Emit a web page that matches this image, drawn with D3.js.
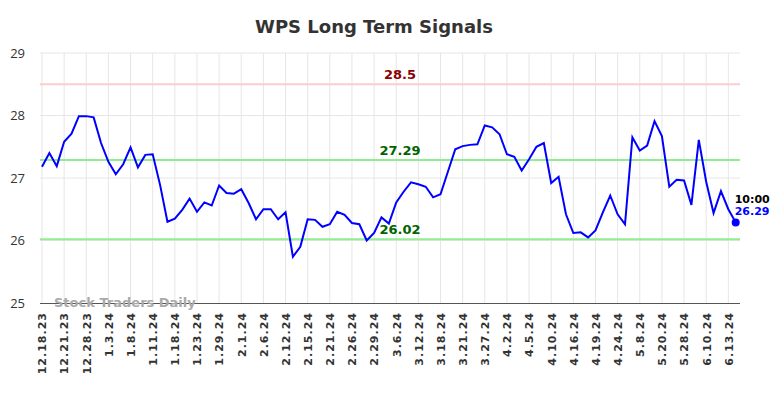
<!DOCTYPE html>
<html>
<head>
<meta charset="utf-8">
<script src="https://cdn.jsdelivr.net/npm/d3@7"></script>
<style>
  html, body { margin: 0; padding: 0; background: #fff; }
  #chart { width: 784px; height: 398px; }
</style>
</head>
<body>
<div id="chart"></div>
<script>
const tickLabels = ["12.18.23", "12.21.23", "12.28.23", "1.3.24", "1.8.24", "1.11.24", "1.18.24", "1.23.24",
    "1.29.24", "2.1.24", "2.6.24", "2.12.24", "2.15.24", "2.21.24", "2.26.24", "2.29.24", "3.6.24", "3.12.24",
    "3.18.24", "3.21.24", "3.27.24", "4.2.24", "4.5.24", "4.10.24", "4.16.24", "4.19.24", "4.24.24", "5.8.24",
    "5.20.24", "5.28.24", "6.10.24", "6.13.24"];

const prices = [27.18, 27.40, 27.19, 27.58, 27.71, 27.99, 27.99, 27.97, 27.56, 27.26,
    27.06, 27.22, 27.49, 27.17, 27.37, 27.38, 26.89, 26.30, 26.35, 26.49,
    26.67, 26.46, 26.61, 26.56, 26.88, 26.76, 26.75, 26.82, 26.60, 26.34,
    26.50, 26.50, 26.34, 26.45, 25.74, 25.90, 26.34, 26.33, 26.22, 26.26,
    26.46, 26.41, 26.28, 26.26, 26.00, 26.12, 26.37, 26.27, 26.61, 26.78,
    26.93, 26.90, 26.86, 26.69, 26.74, 27.10, 27.46, 27.51, 27.53, 27.54,
    27.84, 27.81, 27.70, 27.38, 27.34, 27.12, 27.30, 27.50, 27.56, 26.92,
    27.02, 26.42, 26.12, 26.13, 26.05, 26.16, 26.45, 26.72, 26.42, 26.26,
    27.65, 27.44, 27.52, 27.91, 27.67, 26.86, 26.97, 26.96, 26.57, 27.61,
    26.94, 26.44, 26.79, 26.50, 26.29];

const yTicks = [25, 26, 27, 28, 29];
const signalLevels = [
    { value: 28.5, label: "28.5", line: "#ffcccc", text: "#8b0000" },
    { value: 27.29, label: "27.29", line: "#90ee90", text: "#006400" },
    { value: 26.02, label: "26.02", line: "#90ee90", text: "#006400" }
];
const lastTime = "10:00";
const lastLabel = "26.29";
const watermark = "Stock Traders Daily";
const title = "WPS Long Term Signals";

const width = 784, height = 398;
const margin = { top: 53, right: 44, bottom: 95, left: 40 };
const innerWidth = width - margin.left - margin.right;
const innerHeight = height - margin.top - margin.bottom;

const svg = d3.select("#chart").append("svg")
    .attr("width", width)
    .attr("height", height)
    .style("font-family", "'DejaVu Sans', sans-serif");

svg.append("text")
    .attr("x", 374).attr("y", 33)
    .attr("text-anchor", "middle")
    .attr("font-size", 18).attr("font-weight", "bold")
    .attr("fill", "#333")
    .text(title);

const g = svg.append("g").attr("transform", `translate(${margin.left},${margin.top})`);

const x = d3.scaleLinear().domain([0, prices.length - 1]).range([2, 695.7]);
const y = d3.scaleLinear().domain([25, 29]).range([innerHeight, 0]);
const tickIdx = tickLabels.map((d, i) => i * 3);

// grid
g.append("g").selectAll("line").data(tickIdx).enter().append("line")
    .attr("x1", d => x(d)).attr("x2", d => x(d))
    .attr("y1", 0).attr("y2", innerHeight)
    .attr("stroke", "#e6e6e6").attr("stroke-width", 1);
g.append("g").selectAll("line").data(yTicks.slice(1)).enter().append("line")
    .attr("x1", 0).attr("x2", innerWidth)
    .attr("y1", d => y(d)).attr("y2", d => y(d))
    .attr("stroke", "#e6e6e6").attr("stroke-width", 1);

// y axis labels
g.append("g").call(d3.axisLeft(y).tickValues(yTicks).tickFormat(d3.format("d")).tickSize(0).tickPadding(15))
    .call(a => a.select(".domain").remove())
    .selectAll("text")
    .attr("font-family", "'Open Sans', sans-serif")
    .attr("font-size", 13).attr("fill", "#333");

// x axis
const xAxis = g.append("g").attr("transform", `translate(0,${innerHeight})`)
    .call(d3.axisBottom(x).tickValues(tickIdx).tickFormat((d, i) => tickLabels[i]).tickSize(0).tickSizeOuter(0));
xAxis.select(".domain").attr("stroke", "#555").attr("stroke-width", 1.2).attr("d", `M0,0.5H${innerWidth}`);
xAxis.selectAll("text")
    .attr("font-family", "'DejaVu Sans', sans-serif")
    .attr("font-size", 11).attr("font-weight", "bold").attr("fill", "#333")
    .attr("letter-spacing", 1)
    .attr("text-anchor", "end")
    .attr("transform", "rotate(-90)")
    .attr("dx", -9).attr("dy", "0.35em").attr("y", 0).attr("x", 0);

// watermark
g.append("text")
    .attr("x", 14).attr("y", innerHeight + 4)
    .attr("font-size", 13).attr("font-weight", "bold")
    .attr("fill", "#aaa")
    .text(watermark);

// signal lines
signalLevels.forEach(s => {
    g.append("line")
        .attr("x1", 0).attr("x2", innerWidth)
        .attr("y1", y(s.value)).attr("y2", y(s.value))
        .attr("stroke", s.line).attr("stroke-width", 2);
    g.append("text")
        .attr("x", 360).attr("y", y(s.value) - 5)
        .attr("text-anchor", "middle")
        .attr("font-size", 13).attr("font-weight", "bold")
        .attr("fill", s.text)
        .text(s.label);
});

// price line
g.append("path").datum(prices)
    .attr("fill", "none").attr("stroke", "#0000ff").attr("stroke-width", 2)
    .attr("d", d3.line().x((d, i) => x(i)).y(d => y(d)));

const last = prices.length - 1;
g.append("circle")
    .attr("cx", x(last)).attr("cy", y(prices[last])).attr("r", 4)
    .attr("fill", "#0000ff");
g.append("text")
    .attr("x", x(last) - 1).attr("y", y(prices[last]) - 19)
    .attr("font-size", 11).attr("font-weight", "bold").attr("fill", "#000")
    .text(lastTime);
g.append("text")
    .attr("x", x(last) - 1).attr("y", y(prices[last]) - 7)
    .attr("font-size", 11).attr("font-weight", "bold").attr("fill", "#0000ff")
    .text(lastLabel);
</script>
</body>
</html>
